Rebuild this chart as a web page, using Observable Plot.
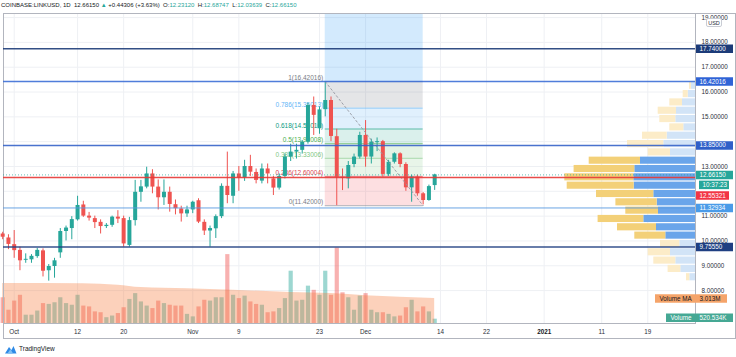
<!DOCTYPE html>
<html><head><meta charset="utf-8">
<script src="https://cdn.jsdelivr.net/npm/d3@7"></script>
<script src="https://cdn.jsdelivr.net/npm/@observablehq/plot@0.6"></script>
<style>
body{margin:0;background:#fff;font-family:"Liberation Sans",Arial,sans-serif;}
#wrap{position:relative;width:736px;height:357px;overflow:hidden;background:#fff;}
#wrap svg{position:absolute;left:0;top:0;}
#outer{position:absolute;left:3px;top:13px;width:733px;height:326px;border:1px solid #b2b5be;box-sizing:border-box;}
#hdr{position:absolute;left:1px;top:1px;font-size:6px;line-height:8px;color:#131722;white-space:nowrap;}
#hdr .g{color:#26a69a;}
#usd{position:absolute;left:706px;top:18px;width:16px;height:9px;border:1px solid #c9ccd4;border-radius:2px;background:#fff;font-size:5.5px;line-height:9px;text-align:center;color:#2a2e39;box-sizing:border-box;}
#logo{position:absolute;left:4px;top:344px;font-size:6.5px;line-height:10px;color:#131722;display:flex;align-items:center;gap:2px;}
</style></head><body>
<div id="wrap">
<div id="outer"></div>
<div id="hdr"></div>
</div>
<script>
// ---------- data ----------
const symbolTitle = "COINBASE:LINKUSD, 1D";
const lastPrice = 12.6615, change = 0.44306, changePct = 3.63;
const hdrO = 12.2312, hdrH = 12.68747, hdrL = 12.03639, hdrC = 12.6615;

const firstDay = [2020, 8, 29]; // 29 Sep 2020, daily candles
const open  = [10.28,10.12,9.85,9.62,9.22,9.24,9.37,9.60,8.80,8.97,9.52,10.38,10.50,10.85,11.45,11.00,10.90,10.75,10.58,10.63,10.96,10.90,9.82,10.82,11.96,12.17,12.70,12.17,11.74,11.96,11.46,11.29,11.09,11.25,11.62,10.75,10.40,10.49,10.98,12.20,11.80,12.70,12.54,13.00,12.76,12.41,12.90,12.50,12.13,12.60,13.38,13.58,13.65,13.98,15.46,14.52,15.29,15.66,14.20,12.56,12.50,13.08,13.38,14.25,13.38,13.96,14.00,12.68,13.17,13.51,13.08,12.14,12.57,11.90,11.63,12.2312];
const high  = [10.35,10.25,10.42,9.75,9.48,9.45,9.70,9.68,9.05,9.30,10.50,10.60,10.98,11.80,11.60,11.15,11.00,10.85,10.70,11.00,11.22,11.00,10.95,12.44,12.44,12.97,12.87,12.46,12.46,12.17,11.65,11.40,11.40,11.60,11.70,10.85,10.60,11.05,12.30,13.58,12.80,13.00,13.25,13.45,12.90,13.10,13.10,12.60,12.70,13.50,13.90,13.90,14.05,15.55,15.80,15.40,16.42016,15.80,14.50,12.90,13.20,13.50,14.38,14.85,14.10,14.15,14.05,13.25,13.55,13.55,13.15,12.65,12.65,11.95,12.25,12.68747];
const low   = [10.05,9.65,9.30,8.80,9.10,9.10,9.30,8.55,8.38,8.50,9.30,10.00,10.05,10.80,10.95,10.80,10.50,10.28,10.50,10.55,10.70,9.75,9.75,10.60,11.56,12.10,11.90,11.25,11.43,11.16,11.05,10.76,10.95,11.10,10.70,10.22,9.75,10.10,10.90,11.50,11.50,12.00,12.40,12.60,12.30,12.30,12.30,11.83,12.05,12.50,13.20,13.30,13.50,13.90,14.25,14.30,15.00,14.00,11.42,12.03,12.10,12.95,13.30,12.97,13.10,13.60,12.57,12.60,13.10,12.95,12.00,11.56,11.80,11.45,11.60,12.03639];
const close = [10.15,9.86,9.61,9.20,9.26,9.38,9.62,8.78,8.97,9.20,10.38,10.52,10.86,11.43,11.00,10.92,10.74,10.58,10.63,10.96,10.88,9.88,10.82,11.96,12.18,12.70,12.17,11.74,11.96,11.47,11.30,11.09,11.25,11.56,10.76,10.40,10.50,10.98,12.20,11.83,12.70,12.54,13.00,12.77,12.44,12.90,12.70,12.13,12.60,13.38,13.58,13.65,13.98,15.46,15.06,15.28,15.66,14.21,12.56,12.52,13.04,13.38,14.25,13.38,13.98,14.00,12.68,13.17,13.51,13.08,12.14,12.57,11.90,11.63,12.19,12.6615];
const volumeM = [3.1,1.6,2.7,3.4,1.0,1.0,1.5,2.4,2.3,2.5,3.1,2.4,2.2,3.4,2.1,2.0,1.4,1.3,0.7,0.9,1.2,1.9,2.9,3.6,2.6,2.1,1.8,2.7,2.4,2.2,2.1,2.1,1.1,0.8,2.0,2.8,2.7,3.1,3.1,8.3,3.4,3.0,3.3,2.6,2.3,2.2,1.3,1.4,1.8,3.0,6.3,2.7,2.8,4.5,4.0,3.4,6.3,3.4,9.1,3.7,3.1,1.6,3.3,3.6,1.6,1.3,1.3,1.1,0.8,0.9,1.9,2.8,1.4,2.0,1.4,0.520534];

const maDates  = ["2020-09-29","2020-10-13","2020-10-19","2020-10-23","2020-10-31","2020-11-08","2020-11-18","2020-11-25","2020-12-01","2020-12-13"];
const maValues = [4.82,4.80,4.62,4.34,4.20,4.02,3.73,3.61,3.34,3.013];
const maLabel = "3.013M", volLabel = "520.534K";

const tickDateStrs = ["2020-10-01","2020-10-12","2020-10-20","2020-11-01","2020-11-09","2020-11-23","2020-12-01","2020-12-14","2020-12-22","2021-01-01","2021-01-11","2021-01-19"];
const tickLabels   = ["Oct","12","20","Nov","9","23","Dec","14","22","2021","11","19"];
const priceTicks = [19,18,17,16,15,13,11,10,9,8];
const gridPrices = [8,9,10,11,12,13,14,15,16,17,18,19];

const levelValues = [17.74, 16.42016, 13.85, 12.55321, 11.32934, 9.7555];

const fibHigh = 16.42016, fibLow = 11.42;
const fibRatios = [1, 0.786, 0.618, 0.5, 0.382, 0.236, 0];
const fibStartStr = "2020-11-24", fibEndStr = "2020-12-11";

const vpTop = 16.42, vpBottom = 8.37;
const vpUp   = [4,7.3,13,19,19.7,11.7,28.3,31.7,25,55,60.7,61.7,61.3,41.7,38.3,37,51.7,39,29.7,15.7,25,19.7,14.7,5.7];
const vpDown = [2,5,12.7,18.3,16,14,24.7,36.3,22.3,51.3,60.7,69,67,57.3,41.3,32.7,45.7,39,31,19.3,22.3,22,12.7,3.3];
const valueArea = [9, 18];

const countdown = "10:37:23";

// ---------- derived tables ----------
const utc = s => new Date(s + "T00:00:00Z");
const DAY = 864e5;
const candles = open.map((o, i) => ({
  date: new Date(Date.UTC(firstDay[0], firstDay[1], firstDay[2] + i)),
  open: o, high: high[i], low: low[i], close: close[i], vol: volumeM[i], up: close[i] >= o
}));
const maPts = maDates.map((d, i) => ({date: utc(d), ma: maValues[i]}));
const tickDates = tickDateStrs.map(utc);
const labelOf = new Map(tickDates.map((d, i) => [+d, tickLabels[i]]));
const fibStart = utc(fibStartStr), fibEnd = utc(fibEndStr);
const fib = fibRatios.map(r => ({r, price: fibLow + r * (fibHigh - fibLow)}));
fib.forEach(f => f.label = `${f.r}(${f.price.toFixed(5)})`);
const fibZones = fib.slice(0, -1).map((f, i) => ({x1: fibStart, x2: fibEnd, y1: fib[i + 1].price, y2: f.price}));
const vpStep = (vpTop - vpBottom) / vpUp.length;
const vpRows = vpUp.map((u, i) => ({hi: vpTop - i * vpStep, lo: vpTop - (i + 1) * vpStep, up: u, tot: u + vpDown[i], va: i >= valueArea[0] && i <= valueArea[1]}));

// ---------- styles ----------
const GREEN = "#26a69a", RED = "#ef5350";
const fibColors = ["#787b86", "#64b5f6", "#089981", "#4caf50", "#81c784", "#d9434f", "#787b86"];
const fibFills = ["rgba(120,123,134,0.2)", "rgba(100,181,246,0.2)", "rgba(8,153,129,0.15)", "rgba(76,175,80,0.15)", "rgba(129,199,132,0.18)", "rgba(242,54,69,0.16)"];
const levelColors = ["#1c3b78", "#3d6fd6", "#3563c9", "#e53935", "#5b9be0", "#1f3f82"];
const levelWidths = [1.5, 1.5, 1.5, 1.5, 1, 1.5];

const W = 736, H = 357;
const xDomain = [new Date(Date.UTC(2020, 9, 1) - 1.858 * DAY), new Date(Date.UTC(2020, 9, 1) + 118.28 * DAY)];
const yDomain = [6.674, 19.164];
const volDomain = [0, 37.35];
const svgStyle = "background:transparent;font-family:'Liberation Sans',Arial,sans-serif;font-size:6.3px;overflow:visible;";
const base = {width: W, height: H, marginTop: 13, marginBottom: 34, marginLeft: 3, marginRight: 41, style: svgStyle};
const wrap = document.getElementById("wrap");

// layer 1: grid + fibonacci
const bg = Plot.plot({...base,
  x: {type: "utc", domain: xDomain, axis: null},
  y: {domain: yDomain, axis: null},
  color: {type: "identity"},
  marks: [
    Plot.gridY({ticks: gridPrices, stroke: "#eef0f4", strokeOpacity: 1}),
    Plot.gridX({ticks: tickDates, stroke: "#eef0f4", strokeOpacity: 1}),
    Plot.rect([{x1: fibStart, x2: fibEnd, y1: fibHigh, y2: yDomain[1]}], {x1: "x1", x2: "x2", y1: "y1", y2: "y2", fill: "rgba(33,150,243,0.2)"}),
    Plot.rect(fibZones, {x1: "x1", x2: "x2", y1: "y1", y2: "y2", fill: (d, i) => fibFills[i]}),
    Plot.ruleY(fib, {y: "price", x1: () => fibStart, x2: () => fibEnd, stroke: (d, i) => fibColors[i], strokeOpacity: 0.6}),
    Plot.text(fib, {x: () => fibStart, y: "price", text: "label", fill: (d, i) => fibColors[i], textAnchor: "end", dx: -2, dy: -3.5, fontSize: 6.5})
  ]
});
wrap.appendChild(bg);

// layer 2: volume + MA
const vol = Plot.plot({...base,
  x: {type: "utc", domain: xDomain, axis: null},
  y: {domain: volDomain, axis: null},
  marks: [
    Plot.ruleX(candles.filter(d => d.up), {x: "date", y1: 0, y2: "vol", stroke: GREEN, strokeOpacity: 0.45, strokeWidth: 4.2}),
    Plot.ruleX(candles.filter(d => !d.up), {x: "date", y1: 0, y2: "vol", stroke: RED, strokeOpacity: 0.45, strokeWidth: 4.2}),
    Plot.areaY(maPts, {x: "date", y: "ma", fill: "rgb(245,124,60)", fillOpacity: 0.35, curve: "monotone-x"})
  ]
});
wrap.appendChild(vol);

// layer 3: visible range volume profile
const vp = Plot.plot({...base,
  x: {domain: [0, 692], range: [695, 3], axis: null},
  y: {domain: yDomain, axis: null},
  color: {type: "identity"},
  marks: [
    Plot.rect(vpRows, {x1: 0, x2: "up", y1: "lo", y2: "hi", fill: d => d.va ? "#6aa5ea" : "#d2e4f7", insetTop: 0.6, insetBottom: 0.6}),
    Plot.rect(vpRows, {x1: "up", x2: "tot", y1: "lo", y2: "hi", fill: d => d.va ? "#f3d078" : "#fcecc8", insetTop: 0.6, insetBottom: 0.6})
  ]
});
wrap.appendChild(vp);

// layer 4: candles, lines, axes
const levels = levelValues.map((v, i) => ({v, i}));
const main = Plot.plot({...base,
  x: {type: "utc", domain: xDomain, axis: null},
  y: {domain: yDomain, axis: null},
  color: {type: "identity"},
  marks: [
    Plot.frame({stroke: "#b2b5be"}),
    Plot.ruleX(candles.filter(d => d.up), {x: "date", y1: "low", y2: "high", stroke: GREEN, strokeWidth: 1}),
    Plot.ruleX(candles.filter(d => !d.up), {x: "date", y1: "low", y2: "high", stroke: RED, strokeWidth: 1}),
    Plot.ruleX(candles.filter(d => d.up), {x: "date", y1: "open", y2: "close", stroke: GREEN, strokeWidth: 4}),
    Plot.ruleX(candles.filter(d => !d.up), {x: "date", y1: "open", y2: "close", stroke: RED, strokeWidth: 4}),
    Plot.line([{d: fibStart, p: fibHigh}, {d: fibEnd, p: fibLow}], {x: "d", y: "p", stroke: "#9598a1", strokeWidth: 1, strokeDasharray: "2,2.5", strokeOpacity: 0.9}),
    Plot.ruleY([lastPrice], {stroke: GREEN, strokeOpacity: 0.7, strokeDasharray: "1,2"}),
    ...levels.map(l => Plot.ruleY([l.v], {stroke: levelColors[l.i], strokeWidth: levelWidths[l.i], strokeOpacity: 0.9})),
    Plot.axisY({anchor: "right", ticks: priceTicks, tickFormat: d => d.toFixed(5), tickSize: 0, tickPadding: 6, fontSize: 6.3, fill: "#2a2e39"}),
    Plot.axisX({anchor: "bottom", ticks: tickDates.filter(d => labelOf.get(+d) !== "2021"), tickFormat: d => labelOf.get(+d), tickSize: 0, tickPadding: 6, fontSize: 6.3, fill: "#2a2e39"}),
    Plot.axisX({anchor: "bottom", ticks: tickDates.filter(d => labelOf.get(+d) === "2021"), tickFormat: d => labelOf.get(+d), tickSize: 0, tickPadding: 6, fontSize: 6.3, fontWeight: "bold", fill: "#131722"})
  ]
});
wrap.appendChild(main);

// layer 5: price badges
const px = {domain: [0, W], range: [0, W], axis: null};
const badges = [
  {v: levelValues[0], t: levelValues[0].toFixed(5), c: levelColors[0]},
  {v: levelValues[1], t: levelValues[1].toFixed(5), c: "#2f63d6"},
  {v: levelValues[2], t: levelValues[2].toFixed(5), c: "#2f5fc8"},
  {v: lastPrice, t: lastPrice.toFixed(5), c: GREEN},
  {v: levelValues[4], t: levelValues[4].toFixed(5), c: "#4a9be8"},
  {v: levelValues[5], t: levelValues[5].toFixed(5), c: levelColors[5]}
];
const badgePlot = Plot.plot({...base,
  x: px,
  y: {domain: yDomain, axis: null},
  color: {type: "identity"},
  marks: [
    Plot.ruleY(badges, {y: "v", x1: 696, x2: 733, stroke: "c", strokeWidth: 8.5}),
    Plot.text(badges, {y: "v", x: 699, text: "t", fill: "white", textAnchor: "start", fontSize: 6.3}),
    Plot.ruleY([lastPrice], {x1: 699, x2: 729, stroke: GREEN, strokeWidth: 8.5, dy: 10}),
    Plot.text([countdown], {y: () => lastPrice, x: 702, text: d => d, fill: "white", textAnchor: "start", fontSize: 6.3, dy: 10}),
    Plot.ruleY([levelValues[3]], {x1: 696, x2: 729, stroke: "#f23645", strokeWidth: 8.5, dy: 18}),
    Plot.text([levelValues[3]], {y: d => d, x: 699, text: d => d.toFixed(5), fill: "white", textAnchor: "start", fontSize: 6.3, dy: 18})
  ]
});
wrap.appendChild(badgePlot);

// layer 6: volume badges
const volBadge = Plot.plot({...base,
  x: px,
  y: {domain: volDomain, axis: null},
  marks: [
    Plot.ruleY([maValues[maValues.length - 1]], {x1: 655, x2: 727, stroke: "#f5a46a", strokeWidth: 8.5}),
    Plot.text(["Volume MA"], {y: () => maValues[maValues.length - 1], x: 659, text: d => d, fill: "#131722", textAnchor: "start", fontSize: 6.3}),
    Plot.text([maLabel], {y: () => maValues[maValues.length - 1], x: 699, text: d => d, fill: "#131722", textAnchor: "start", fontSize: 6.3}),
    Plot.ruleY([volumeM[volumeM.length - 1]], {x1: 666, x2: 733, stroke: "#45a894", strokeWidth: 8.5, dy: -1.5}),
    Plot.text(["Volume"], {y: () => volumeM[volumeM.length - 1], x: 670, text: d => d, fill: "white", textAnchor: "start", fontSize: 6.3, dy: -1.5}),
    Plot.text([volLabel], {y: () => volumeM[volumeM.length - 1], x: 699, text: d => d, fill: "white", textAnchor: "start", fontSize: 6.3, dy: -1.5})
  ]
});
wrap.appendChild(volBadge);

// header, USD tag, logo
const f5 = v => v.toFixed(5);
document.getElementById("hdr").innerHTML =
  `${symbolTitle}&nbsp; ${f5(lastPrice)} <span class="g">▲</span> +${f5(change)} (+${changePct.toFixed(2)}%)&nbsp; ` +
  `O:<span class="g">${f5(hdrO)}</span>&nbsp; H:<span class="g">${f5(hdrH)}</span>&nbsp; L:<span class="g">${f5(hdrL)}</span>&nbsp; C:<span class="g">${f5(hdrC)}</span>`;
const usd = document.createElement("div"); usd.id = "usd"; usd.textContent = "USD"; wrap.appendChild(usd);
const logo = document.createElement("div"); logo.id = "logo";
logo.innerHTML = `<svg width="13" height="9" viewBox="0 0 13 9" style="position:static"><path d="M1 8.5 L5 2 L7.5 5 L9.5 1 L12.5 8.5 Z" fill="#2e8ae6"/><path d="M3.5 8.5 L6.5 4 L9 8.5 Z" fill="#7fc0f5"/></svg><span>TradingView</span>`;
wrap.appendChild(logo);
</script>
</body></html>
